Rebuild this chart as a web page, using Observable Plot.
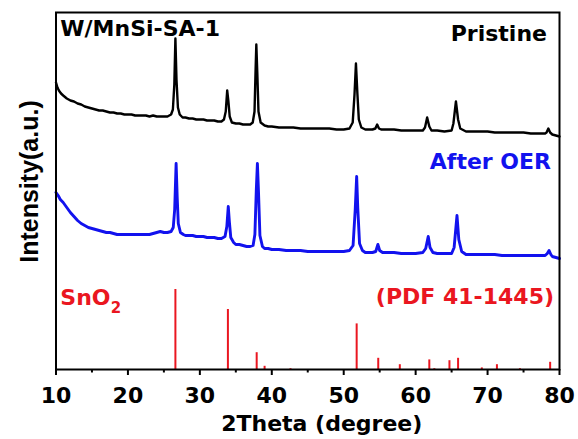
<!DOCTYPE html>
<html><head><meta charset="utf-8">
<script src="https://cdn.jsdelivr.net/npm/d3@7"></script>
<script src="https://cdn.jsdelivr.net/npm/@observablehq/plot@0.6"></script>
<style>body{margin:0;background:#fff}#chart{width:578px;height:439px}</style>
</head><body><div id="chart"></div>
<script>
// ---- data ----
const xTicks = [10, 20, 30, 40, 50, 60, 70, 80];
const xMinorTicks = [15, 25, 35, 45, 55, 65, 75];

// 2Theta (deg), intensity (a.u., offset stacked)
const pristine = [[10.0,287],[10.2,282],[10.4,279],[10.7,276],[11.0,274],[11.5,271],[12.0,269],[12.5,268],[13.0,266],[13.5,265],[14.0,263],[14.5,262],[15.0,261],[15.5,260],[16.0,259],[16.5,259],[17.0,258],[17.5,257],[18.0,257],[18.5,256],[19.0,256],[19.5,255],[20.0,255],[20.5,255],[21.0,254],[21.5,254],[22.0,254],[22.5,254],[23.0,253],[23.5,254],[24.0,253],[24.5,253],[25.0,253],[25.5,253],[26.0,255],[26.25,260],[26.45,285],[26.6,331],[26.75,290],[26.95,262],[27.2,255],[27.6,252],[28.0,252],[28.5,251],[29.0,251],[29.5,250],[30.0,250],[30.5,250],[31.0,249],[31.5,249],[32.0,249],[32.5,248],[33.0,248],[33.35,250],[33.6,258],[33.8,279],[33.97,268],[34.15,253],[34.45,247],[35.0,246],[35.5,246],[36.0,245],[36.5,245],[37.0,245],[37.35,247],[37.6,258],[37.75,300],[37.85,325],[37.98,298],[38.15,258],[38.45,247],[39.0,244],[39.5,243],[40.0,243],[41,242],[42,242],[43,242],[44,241],[45,241],[46,241],[47,241],[48,241],[49,240],[50,240],[50.8,241],[51.25,247],[51.5,275],[51.7,306],[51.9,276],[52.1,250],[52.45,242],[53,240],[54,240],[54.4,241],[54.65,245],[54.9,241],[55.2,240],[56,240],[57,240],[58,239],[59,239],[60,239],[61,239],[61.3,242],[61.6,252],[61.9,243],[62.2,239],[63,239],[64,238],[65,239],[65.25,246],[65.6,268],[65.9,250],[66.2,241],[67,238],[68,238],[69,238],[70,238],[71,237],[72,237],[73,237],[74,237],[75,237],[76,236],[77,236],[78,236],[78.2,237],[78.45,241],[78.7,237],[79,235],[79.5,234],[80,233]];

const afterOER = [[10.0,177],[10.3,174],[10.6,170],[11.0,167],[11.5,162],[12.0,157],[12.5,153],[13.0,149],[13.5,146],[14.0,144],[14.5,142],[15.0,141],[15.5,140],[16.0,139],[16.5,138],[17.0,137],[17.5,137],[18.0,136],[18.5,135],[19.0,135],[19.5,135],[20.0,135],[20.5,135],[21.0,135],[21.5,135],[22.0,135],[22.5,135],[23.0,135],[23.5,136],[24.0,137],[24.5,138],[25.0,137],[25.5,137],[26.0,138],[26.3,142],[26.5,160],[26.7,206],[26.85,172],[27.0,146],[27.3,137],[27.7,135],[28.0,134],[28.5,134],[29.0,134],[29.5,133],[30.0,133],[30.5,133],[31.0,132],[31.5,132],[32.0,132],[32.5,131],[33.0,131],[33.5,133],[33.75,143],[33.95,163],[34.1,148],[34.3,132],[34.7,127],[35.0,125],[35.5,125],[36.0,124],[36.5,123],[37.0,123],[37.4,124],[37.65,135],[37.85,180],[38.0,206],[38.15,178],[38.35,134],[38.7,123],[39.0,121],[39.5,121],[40.0,120],[41,120],[42,119],[43,119],[44,119],[45,118],[46,118],[47,118],[48,118],[49,118],[50,118],[50.8,119],[51.3,124],[51.6,160],[51.8,193],[51.95,162],[52.2,126],[52.6,119],[53,117],[54,117],[54.45,118],[54.75,125],[55.0,119],[55.4,117],[56,117],[57,117],[58,116],[59,116],[60,116],[61,117],[61.4,121],[61.75,133],[62.0,122],[62.4,117],[63,116],[64,116],[65,116],[65.35,122],[65.75,154],[66.0,130],[66.4,118],[67,115],[68,115],[69,115],[70,115],[71,115],[72,114],[73,114],[74,114],[75,114],[76,114],[77,114],[78,114],[78.3,116],[78.55,119],[78.8,115],[79,113],[79.5,112],[80,111]];

// SnO2 reference pattern, PDF 41-1445: positions (deg) and relative intensities (%)
const sno2Pos = [26.6, 33.9, 37.9, 39.0, 42.6, 51.8, 54.8, 57.8, 61.9, 62.6, 64.7, 65.9, 69.2, 71.3, 74.5, 78.7];
const sno2Int = [100, 75, 21, 4, 1, 57, 14, 6, 12, 1, 11, 14, 2, 6, 1, 9];

const sampleTitle = "W/MnSi-SA-1";
const labelPristine = "Pristine";
const labelAfter = "After OER";
const labelRef = "SnO";
const labelRefSub = "2";
const labelPdf = "(PDF 41-1445)";
const xLabel = "2Theta (degree)";
const yLabel = "Intensity(a.u.)";

// ---- chart ----
const RED = "#ea1620", BLUE = "#1212ee", BLACK = "#000";
const sticks = sno2Pos.map((p, i) => ({pos: p, int: sno2Int[i]}));
const bold = {fontWeight: "bold", fontFamily: "'DejaVu Sans', sans-serif"};

const chart = Plot.plot({
  width: 578, height: 439,
  marginLeft: 55.5, marginRight: 19, marginTop: 12, marginBottom: 70,
  x: {domain: [10, 80]},
  y: {domain: [0, 357], axis: null},
  style: {fontFamily: "'DejaVu Sans', sans-serif", background: "#fff", color: "#000"},
  marks: [
    Plot.ruleX(sticks, {x: "pos", y1: 0, y2: d => d.int * 0.8, stroke: RED, strokeWidth: 2}),
    Plot.line(pristine, {x: d => d[0], y: d => d[1], stroke: BLACK, strokeWidth: 2.4, strokeLinejoin: "round"}),
    Plot.line(afterOER, {x: d => d[0], y: d => d[1], stroke: BLUE, strokeWidth: 2.9, strokeLinejoin: "round"}),
    Plot.axisX({ticks: xTicks, tickSize: 6, tickPadding: 12, tickFormat: d => String(d), fontSize: 22, ...bold, strokeWidth: 2, label: null}),
    Plot.axisX({ticks: xMinorTicks, tickSize: 3.5, tickFormat: () => "", strokeWidth: 2, label: null}),
    Plot.frame({stroke: BLACK, strokeWidth: 2}),
    Plot.text([sampleTitle], {x: 10.6, y: 334, text: d => d, textAnchor: "start", lineAnchor: "bottom", fontSize: 22, ...bold, fill: BLACK}),
    Plot.text([labelPristine], {x: 78.26, y: 329, text: d => d, textAnchor: "end", lineAnchor: "bottom", fontSize: 22, ...bold, fill: BLACK}),
    Plot.text([labelAfter], {x: 78.82, y: 201, text: d => d, textAnchor: "end", lineAnchor: "bottom", fontSize: 22, ...bold, fill: BLUE}),
    Plot.text([labelRef], {x: 10.6, y: 65, text: d => d, textAnchor: "start", lineAnchor: "bottom", fontSize: 22, ...bold, fill: RED}),
    Plot.text([labelRefSub], {x: 17.6, y: 57, text: d => d, textAnchor: "start", lineAnchor: "bottom", fontSize: 15, ...bold, fill: RED}),
    Plot.text([labelPdf], {x: 79.24, y: 66, text: d => d, textAnchor: "end", lineAnchor: "bottom", fontSize: 22, ...bold, fill: RED}),
    Plot.text([xLabel], {frameAnchor: "bottom", dx: 14, dy: 61, text: d => d, textAnchor: "middle", lineAnchor: "bottom", fontSize: 22, ...bold, fill: BLACK}),
    Plot.text([yLabel], {frameAnchor: "left", dx: -18.5, dy: -9.5, rotate: -90, text: d => d, textAnchor: "middle", lineAnchor: "bottom", fontSize: 25, fontWeight: "bold", fontFamily: "'Liberation Sans', Arial, sans-serif", fill: BLACK})
  ]
});
document.getElementById("chart").appendChild(chart);
</script>
</body></html>
